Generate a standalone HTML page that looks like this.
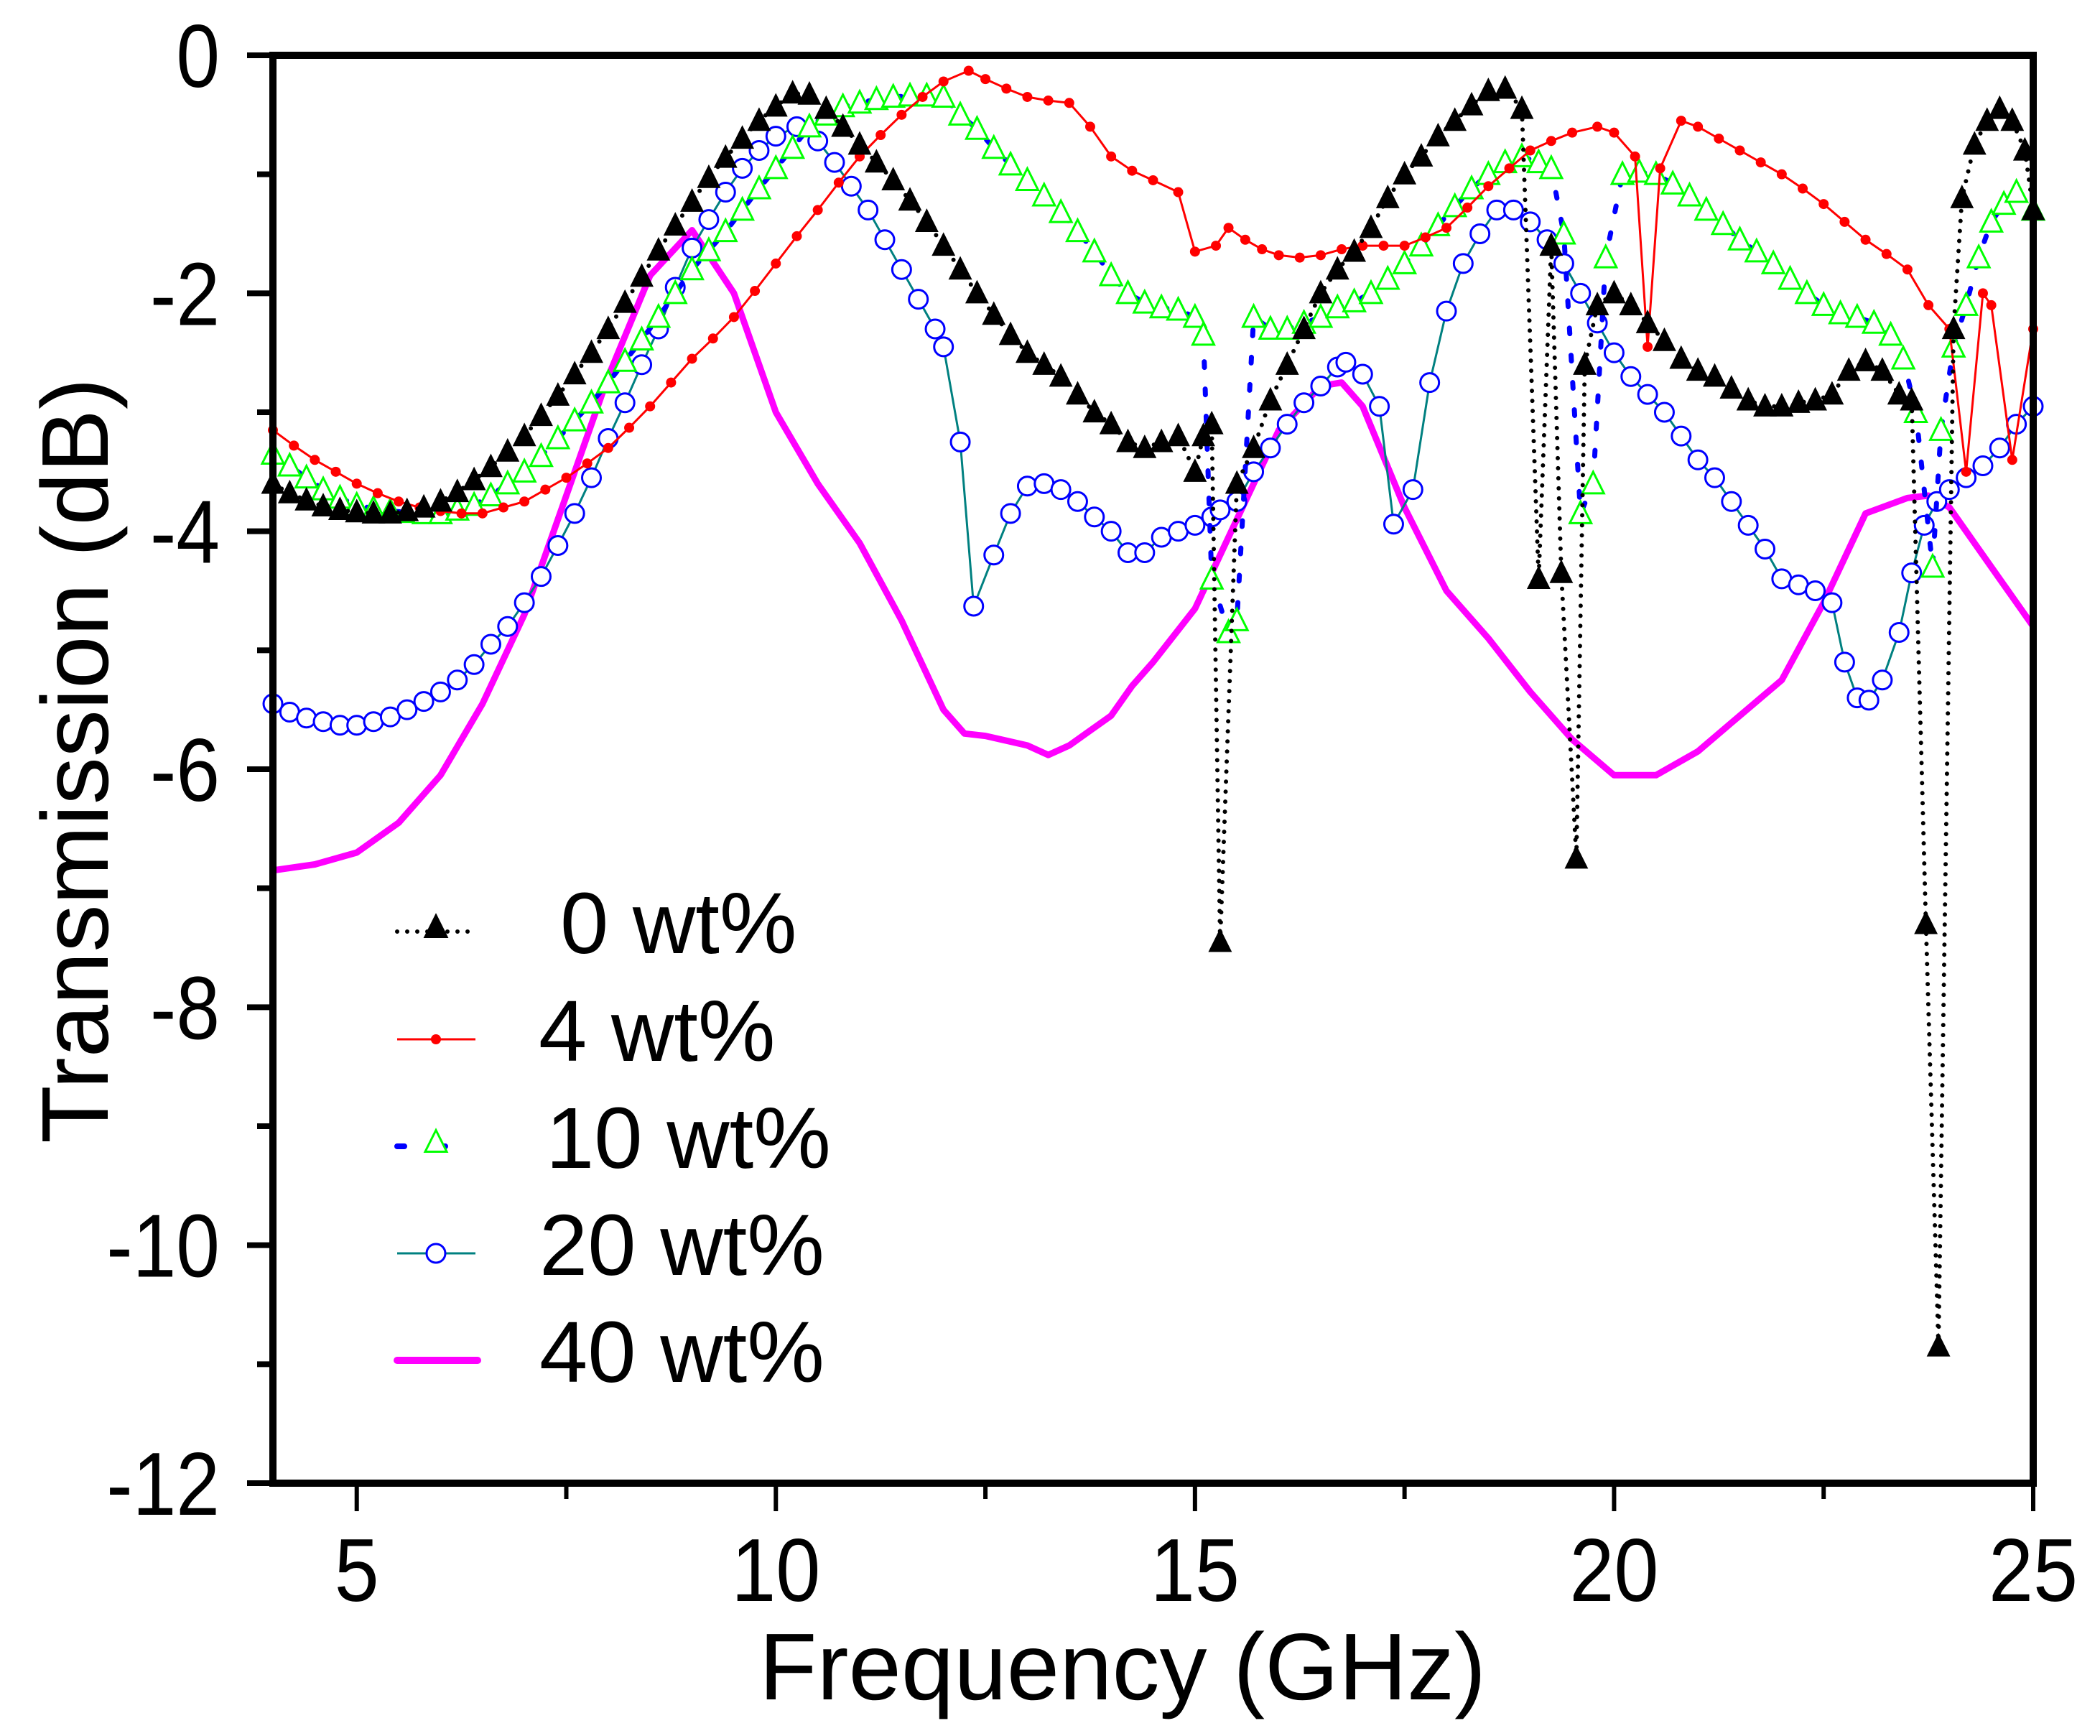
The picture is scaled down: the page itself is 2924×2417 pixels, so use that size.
<!DOCTYPE html>
<html><head><meta charset="utf-8"><style>
html,body{margin:0;padding:0;background:#fff;}
svg{display:block;font-family:"Liberation Sans",sans-serif;}
</style></head><body>
<svg id="chart" width="2924" height="2417" viewBox="0 0 2924 2417">
<g id="plot"></g>
<g id="axes"></g>
<g id="legend"></g>
</svg>
<script>
const xTicks=[5,10,15,20,25];
const yTicks=[0,-2,-4,-6,-8,-10,-12];
const f0=[4,4.2,4.4,4.6,4.8,5,5.2,5.4,5.6,5.8,6,6.2,6.4,6.6,6.8,7,7.2,7.4,7.6,7.8,8,8.2,8.4,8.6,8.8,9,9.2,9.4,9.6,9.8,10,10.2,10.4,10.6,10.8,11,11.2,11.4,11.6,11.8,12,12.2,12.4,12.6,12.8,13,13.2,13.4,13.6,13.8,14,14.2,14.4,14.6,14.8,15,15.1,15.2,15.3,15.5,15.7,15.9,16.1,16.3,16.5,16.7,16.9,17.1,17.3,17.5,17.7,17.9,18.1,18.3,18.5,18.7,18.9,19.1,19.25,19.37,19.55,19.65,19.8,20,20.2,20.4,20.6,20.8,21,21.2,21.4,21.6,21.8,22,22.2,22.4,22.6,22.8,23,23.2,23.4,23.55,23.72,23.87,24.05,24.15,24.3,24.45,24.6,24.75,24.9,25];
const v0=[-3.6,-3.68,-3.74,-3.79,-3.82,-3.84,-3.85,-3.85,-3.83,-3.8,-3.75,-3.67,-3.57,-3.46,-3.33,-3.2,-3.03,-2.86,-2.68,-2.5,-2.3,-2.08,-1.86,-1.64,-1.43,-1.23,-1.03,-0.86,-0.7,-0.55,-0.43,-0.32,-0.33,-0.45,-0.6,-0.75,-0.9,-1.05,-1.22,-1.4,-1.6,-1.8,-2.0,-2.18,-2.35,-2.5,-2.6,-2.7,-2.85,-3.0,-3.1,-3.25,-3.3,-3.25,-3.2,-3.5,-3.2,-3.1,-7.45,-3.6,-3.3,-2.9,-2.6,-2.3,-2.0,-1.8,-1.65,-1.45,-1.2,-1.0,-0.85,-0.68,-0.55,-0.42,-0.3,-0.28,-0.45,-4.4,-1.6,-4.35,-6.75,-2.6,-2.1,-2.0,-2.1,-2.25,-2.4,-2.55,-2.65,-2.7,-2.8,-2.9,-2.95,-2.95,-2.92,-2.9,-2.85,-2.65,-2.57,-2.65,-2.85,-2.9,-7.3,-10.85,-2.3,-1.2,-0.75,-0.55,-0.45,-0.55,-0.8,-1.3];
const f4=[4,4.25,4.5,4.75,5,5.25,5.5,5.75,6,6.25,6.5,6.75,7,7.25,7.5,7.75,8,8.25,8.5,8.75,9,9.25,9.5,9.75,10,10.25,10.5,10.75,11,11.25,11.5,11.75,12,12.3,12.5,12.75,13,13.25,13.5,13.75,14,14.25,14.5,14.8,15,15.25,15.4,15.6,15.8,16,16.25,16.5,16.75,17,17.25,17.5,17.75,18,18.25,18.5,18.75,19,19.25,19.5,19.8,20,20.25,20.4,20.55,20.8,21,21.25,21.5,21.75,22,22.25,22.5,22.75,23,23.25,23.5,23.75,24,24.2,24.4,24.5,24.75,25];
const v4=[-3.15,-3.28,-3.4,-3.5,-3.6,-3.68,-3.75,-3.8,-3.83,-3.85,-3.85,-3.8,-3.75,-3.65,-3.55,-3.43,-3.3,-3.13,-2.95,-2.75,-2.55,-2.38,-2.2,-1.98,-1.75,-1.52,-1.3,-1.07,-0.85,-0.67,-0.5,-0.35,-0.22,-0.13,-0.2,-0.28,-0.35,-0.38,-0.4,-0.6,-0.85,-0.97,-1.05,-1.15,-1.65,-1.6,-1.45,-1.55,-1.63,-1.68,-1.7,-1.68,-1.63,-1.6,-1.6,-1.6,-1.53,-1.45,-1.28,-1.1,-0.95,-0.8,-0.72,-0.65,-0.6,-0.65,-0.85,-2.45,-0.95,-0.55,-0.6,-0.7,-0.8,-0.9,-1.0,-1.12,-1.25,-1.4,-1.55,-1.67,-1.8,-2.1,-2.3,-3.5,-2.0,-2.1,-3.4,-2.3];
const f10=[4,4.2,4.4,4.6,4.8,5,5.2,5.4,5.6,5.8,6,6.2,6.4,6.6,6.8,7,7.2,7.4,7.6,7.8,8,8.2,8.4,8.6,8.8,9,9.2,9.4,9.6,9.8,10,10.2,10.4,10.6,10.8,11,11.2,11.4,11.6,11.8,12,12.2,12.4,12.6,12.8,13,13.2,13.4,13.6,13.8,14,14.2,14.4,14.6,14.8,15,15.1,15.2,15.4,15.5,15.7,15.9,16.1,16.3,16.5,16.7,16.9,17.1,17.3,17.5,17.7,17.9,18.1,18.3,18.5,18.7,18.9,19.1,19.25,19.4,19.6,19.75,19.9,20.1,20.3,20.5,20.7,20.9,21.1,21.3,21.5,21.7,21.9,22.1,22.3,22.5,22.7,22.9,23.1,23.3,23.45,23.6,23.8,23.9,24.05,24.2,24.35,24.5,24.65,24.8,25];
const v10=[-3.35,-3.45,-3.55,-3.65,-3.72,-3.78,-3.81,-3.83,-3.84,-3.85,-3.85,-3.82,-3.78,-3.7,-3.6,-3.5,-3.37,-3.22,-3.07,-2.92,-2.75,-2.57,-2.39,-2.2,-2.0,-1.8,-1.64,-1.48,-1.3,-1.12,-0.95,-0.78,-0.6,-0.5,-0.43,-0.4,-0.37,-0.35,-0.34,-0.34,-0.35,-0.5,-0.62,-0.78,-0.92,-1.05,-1.18,-1.32,-1.48,-1.65,-1.85,-2.0,-2.08,-2.12,-2.14,-2.2,-2.35,-4.4,-4.85,-4.75,-2.2,-2.3,-2.3,-2.25,-2.2,-2.12,-2.07,-2.0,-1.88,-1.75,-1.6,-1.43,-1.27,-1.12,-1.0,-0.9,-0.85,-0.9,-0.95,-1.5,-3.85,-3.6,-1.7,-1.0,-0.98,-1.0,-1.08,-1.18,-1.3,-1.42,-1.55,-1.65,-1.75,-1.88,-2.0,-2.1,-2.17,-2.2,-2.25,-2.35,-2.55,-3.0,-4.3,-3.15,-2.45,-2.1,-1.7,-1.4,-1.25,-1.15,-1.3];
const f20=[4,4.2,4.4,4.6,4.8,5,5.2,5.4,5.6,5.8,6,6.2,6.4,6.6,6.8,7,7.2,7.4,7.6,7.8,8,8.2,8.4,8.6,8.8,9,9.2,9.4,9.6,9.8,10,10.25,10.5,10.7,10.9,11.1,11.3,11.5,11.7,11.9,12.0,12.2,12.36,12.6,12.8,13,13.2,13.4,13.6,13.8,14,14.2,14.4,14.6,14.8,15,15.2,15.3,15.5,15.7,15.9,16.1,16.3,16.5,16.7,16.8,17,17.2,17.37,17.6,17.8,18,18.2,18.4,18.6,18.8,19,19.2,19.4,19.6,19.8,20,20.2,20.4,20.6,20.8,21,21.2,21.4,21.6,21.8,22,22.2,22.4,22.6,22.75,22.9,23.04,23.2,23.4,23.55,23.7,23.85,24,24.2,24.4,24.6,24.8,25];
const v20=[-5.45,-5.52,-5.57,-5.6,-5.63,-5.63,-5.6,-5.56,-5.5,-5.43,-5.35,-5.25,-5.12,-4.95,-4.8,-4.6,-4.38,-4.12,-3.85,-3.55,-3.22,-2.92,-2.6,-2.3,-1.95,-1.62,-1.38,-1.15,-0.95,-0.8,-0.68,-0.6,-0.72,-0.9,-1.1,-1.3,-1.55,-1.8,-2.05,-2.3,-2.45,-3.25,-4.63,-4.2,-3.85,-3.62,-3.6,-3.65,-3.75,-3.88,-4.0,-4.18,-4.18,-4.05,-4.0,-3.95,-3.88,-3.82,-3.75,-3.5,-3.3,-3.1,-2.92,-2.78,-2.62,-2.58,-2.68,-2.95,-3.94,-3.65,-2.75,-2.15,-1.75,-1.5,-1.3,-1.3,-1.4,-1.55,-1.75,-2.0,-2.25,-2.5,-2.7,-2.85,-3.0,-3.2,-3.4,-3.55,-3.75,-3.95,-4.15,-4.4,-4.45,-4.5,-4.6,-5.1,-5.4,-5.42,-5.25,-4.85,-4.35,-3.95,-3.75,-3.65,-3.55,-3.45,-3.3,-3.1,-2.95];
const f40=[4,4.5,5,5.5,6,6.5,7,7.5,8,8.5,9,9.5,10,10.5,11,11.5,12,12.25,12.5,13,13.25,13.5,14,14.25,14.5,15,15.5,16,16.5,16.75,17,17.5,18,18.5,19,19.5,20,20.5,21,21.5,22,22.5,23,23.5,23.75,24,24.5,25];
const v40=[-6.85,-6.8,-6.7,-6.45,-6.05,-5.45,-4.7,-3.7,-2.7,-1.85,-1.47,-2.0,-3.0,-3.6,-4.1,-4.75,-5.5,-5.7,-5.72,-5.8,-5.88,-5.8,-5.55,-5.3,-5.1,-4.65,-3.9,-3.15,-2.78,-2.75,-2.95,-3.8,-4.5,-4.9,-5.35,-5.75,-6.05,-6.05,-5.85,-5.55,-5.25,-4.6,-3.85,-3.72,-3.7,-3.8,-4.3,-4.8];
const legendLabels=["0 wt%","4 wt%","10 wt%","20 wt%","40 wt%"];

const X0=380,X1=2831,Y0=77,Y1=2065;
const sx=f=>X0+(f-4)/(25-4)*(X1-X0);
const sy=v=>Y0+(0-v)/12*(Y1-Y0);
const NS="http://www.w3.org/2000/svg";
function mk(tag,attrs,parent){const e=document.createElementNS(NS,tag);for(const k in attrs)e.setAttribute(k,attrs[k]);parent.appendChild(e);return e;}
const plot=document.getElementById('plot'),axes=document.getElementById('axes'),legend=document.getElementById('legend');
function pts(f,v){return f.map((x,i)=>sx(x).toFixed(1)+","+sy(v[i]).toFixed(1)).join(" ");}
function tri(cx,cy,s,fill,stroke,parent){return mk('polygon',{points:`${cx},${cy-s*0.55} ${cx-s/2},${cy+s*0.45} ${cx+s/2},${cy+s*0.45}`,fill:fill,stroke:stroke,'stroke-width':3},parent);}

let l=mk('polyline',{points:pts(f40,v40),fill:'none',stroke:'#ff00ff','stroke-width':9,'stroke-linejoin':'round'},plot);


l=mk('polyline',{points:pts(f20,v20),fill:'none',stroke:'#008080','stroke-width':3},plot);


f20.forEach((f,i)=>{const c=mk('circle',{cx:sx(f),cy:sy(v20[i]),r:13,fill:'#fff',stroke:'#0000ff','stroke-width':3},plot);

});
l=mk('polyline',{points:pts(f10,v10),fill:'none',stroke:'#0000ff','stroke-width':7,'stroke-dasharray':'8 30','stroke-linecap':'round'},plot);


f10.forEach((f,i)=>{const t=tri(sx(f),sy(v10[i]),30,'#fff','#00ff00',plot);

});
l=mk('polyline',{points:pts(f4,v4),fill:'none',stroke:'#ff0000','stroke-width':3},plot);


f4.forEach((f,i)=>{const c=mk('circle',{cx:sx(f),cy:sy(v4[i]),r:7,fill:'#ff0000'},plot);

});
l=mk('polyline',{points:pts(f0,v0),fill:'none',stroke:'#000','stroke-width':6,'stroke-dasharray':'0 14','stroke-linecap':'round'},plot);


f0.forEach((f,i)=>{const t=tri(sx(f),sy(v0[i]),28,'#000','#000',plot);

});

let fr=mk('rect',{x:X0,y:Y0,width:X1-X0,height:Y1-Y0,fill:'none',stroke:'#000','stroke-width':10},axes);


xTicks.forEach(t=>{mk('line',{x1:sx(t),x2:sx(t),y1:Y1,y2:Y1+39,stroke:'#000','stroke-width':6},axes);
const tx=mk('text',{x:0,y:0,'font-size':124,'text-anchor':'middle',transform:`translate(${sx(t)},2229) scale(0.9,1)`},axes);tx.textContent=t;

});
[7.5,12.5,17.5,22.5].forEach(t=>mk('line',{x1:sx(t),x2:sx(t),y1:Y1,y2:Y1+22,stroke:'#000','stroke-width':6},axes));
yTicks.forEach(t=>{mk('line',{x1:X0-36,x2:X0,y1:sy(t),y2:sy(t),stroke:'#000','stroke-width':8},axes);
const tx=mk('text',{x:0,y:0,'font-size':124,'text-anchor':'end',transform:`translate(306,${sy(t)+44}) scale(0.88,1)`},axes);tx.textContent=t;

});
[-1,-3,-5,-7,-9,-11].forEach(t=>mk('line',{x1:X0-22,x2:X0,y1:sy(t),y2:sy(t),stroke:'#000','stroke-width':8},axes));
let xt=mk('text',{x:1563,y:2366,'font-size':132,'text-anchor':'middle'},axes);xt.textContent='Frequency (GHz)';


let yt=mk('text',{x:0,y:0,'font-size':132,'text-anchor':'middle',transform:'translate(150,1059) rotate(-90)'},axes);yt.textContent='Transmission (dB)';



const rows=[1297,1447,1596,1745,1894];
const textX=[780,750,760,751,751];
rows.forEach((ry,i)=>{
 const g=mk('g',{},legend);
 
 
 if(i===0){mk('line',{x1:553,x2:662,y1:ry,y2:ry,stroke:'#000','stroke-width':6,'stroke-dasharray':'0 14','stroke-linecap':'round'},g);tri(607,ry-6,30,'#000','#000',g);}
 if(i===1){mk('line',{x1:553,x2:662,y1:ry,y2:ry,stroke:'#ff0000','stroke-width':3},g);mk('circle',{cx:607,cy:ry,r:7,fill:'#ff0000'},g);}
 if(i===2){mk('line',{x1:553,x2:620,y1:ry,y2:ry,stroke:'#0000ff','stroke-width':8,'stroke-dasharray':'10 55','stroke-linecap':'round'},g);tri(607,ry-6,30,'#fff','#00ff00',g);}
 if(i===3){mk('line',{x1:553,x2:662,y1:ry,y2:ry,stroke:'#008080','stroke-width':3},g);mk('circle',{cx:607,cy:ry,r:13,fill:'#fff',stroke:'#0000ff','stroke-width':3},g);}
 if(i===4){mk('line',{x1:553,x2:665,y1:ry,y2:ry,stroke:'#ff00ff','stroke-width':10,'stroke-linecap':'round'},g);}
 const tx=mk('text',{x:textX[i],y:ry+30,'font-size':121},g);tx.textContent=legendLabels[i];
});
</script>
</body></html>
